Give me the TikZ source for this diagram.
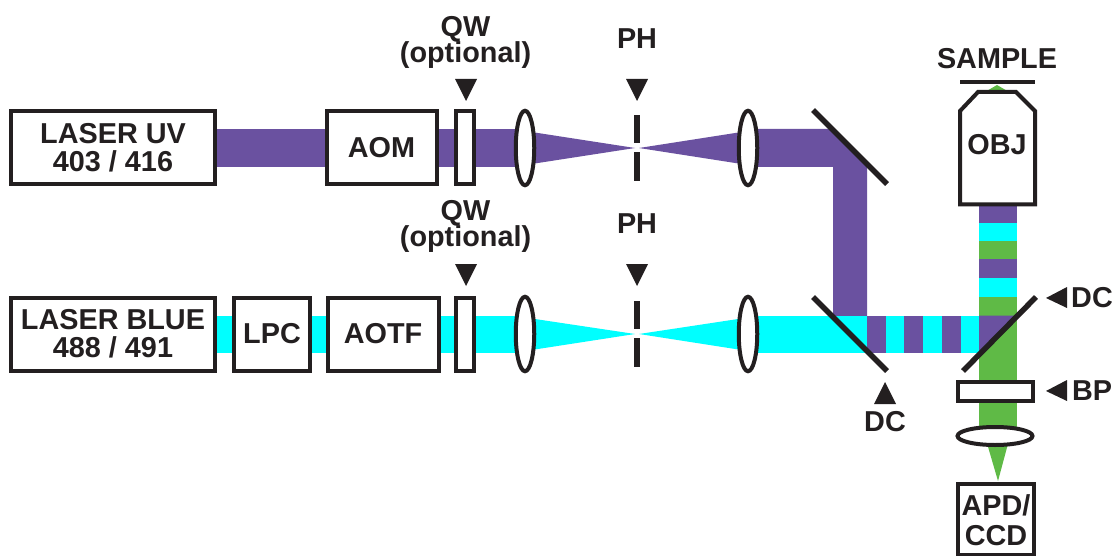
\documentclass[tikz,border=0pt]{standalone}
\usepackage{fontspec}
\setmainfont{Liberation Sans}
\usetikzlibrary{shapes.geometric}
\definecolor{ink}{HTML}{231F20}
\definecolor{uvbeam}{HTML}{6A51A0}
\definecolor{bluebeam}{HTML}{00FFFF}
\definecolor{greenbeam}{HTML}{5FBA46}
\tikzset{
  x=1pt,y=-1pt,
  lbl/.style={font=\fontsize{28.8}{30}\selectfont\bfseries,text=ink,inner sep=0pt,align=center},
  device/.style={draw=ink,line width=4pt,fill=white,rectangle,inner sep=0pt,font=\fontsize{28.8}{30}\selectfont\bfseries,text=ink,align=center,minimum width=#1,minimum height=73pt},
  device/.default=100pt,
  lensv/.style={draw=ink,line width=4pt,fill=white,ellipse,inner sep=0pt,minimum width=18.5pt,minimum height=74.5pt},
  lensh/.style={draw=ink,line width=4pt,fill=white,ellipse,inner sep=0pt,minimum width=75pt,minimum height=18pt},
  mirror/.style={draw=ink,line width=5.5pt},
  phbar/.style={fill=ink},
  pointer/.style={fill=ink},
}
\begin{document}
\begin{tikzpicture}
\useasboundingbox (0,0) rectangle (1113,556);
\fill[white] (0,0) rectangle (1113,556);
% beams: UV row
\fill[uvbeam] (200,129) rectangle (525,167);
\fill[uvbeam] (525,131) -- (635,148) -- (525,165) -- cycle;
\fill[uvbeam] (748,131) -- (639,148) -- (748,165) -- cycle;
\fill[uvbeam] (748,129) -- (832,129) -- (867,164) -- (867,316) -- (833,316) -- (833,167) -- (748,167) -- cycle;
% beams: blue row
\fill[bluebeam] (200,315.5) rectangle (525,353);
\fill[bluebeam] (525,317.5) -- (635,334) -- (525,351) -- cycle;
\fill[bluebeam] (748,317.5) -- (639,334) -- (748,351) -- cycle;
\fill[bluebeam] (748,315.5) rectangle (979,353);
\fill[uvbeam] (867,315.5) rectangle (886,353);
\fill[uvbeam] (904,315.5) rectangle (923,353);
\fill[uvbeam] (942,315.5) rectangle (961,353);
% beams: detection column
\fill[greenbeam] (979,297) rectangle (1017,436);
\fill[uvbeam] (979,315.5) -- (1020,315.5) -- (979,356) -- cycle;
\fill[uvbeam] (979,206) rectangle (1017,223);
\fill[bluebeam] (979,223) rectangle (1017,241);
\fill[greenbeam] (979,241) rectangle (1017,259);
\fill[uvbeam] (979,259) rectangle (1017,278);
\fill[bluebeam] (979,278) rectangle (1017,297);
\fill[greenbeam] (986,440) -- (1009,440) -- (998,481) -- cycle;
\fill[greenbeam] (985,92) -- (997,85) -- (1009,92) -- cycle;
% boxes
\node[device=204pt] (uv) at (113,148) {\strut};
\node[lbl] (uvtxt) at (113,148) {LASER UV\\[-2pt]403 / 416};
\node[device=110pt] (aom) at (381.5,148) {AOM};
\node[device=18.5pt] (qw1) at (465,148) {};
\node[lensv] (l1) at (525,148) {};
\node[lensv] (l2) at (748,148) {};
\node[device=204pt] (blue) at (113,334) {\strut};
\node[lbl] (bluetxt) at (113,334) {LASER BLUE\\[-2pt]488 / 491};
\node[device=76pt] (lpc) at (272,334) {LPC};
\node[device=111pt] (aotf) at (383,334) {AOTF};
\node[device=18.5pt] (qw2) at (465,334) {};
\node[lensv] (l3) at (525,334) {};
\node[lensv] (l4) at (748,334) {};
% pinholes
\fill[phbar] (634,115) rectangle (640,143);
\fill[phbar] (634,152) rectangle (640,181);
\fill[phbar] (634,301) rectangle (640,329);
\fill[phbar] (634,338) rectangle (640,367);
% mirrors
\coordinate (m1a) at (813,110); \coordinate (m1b) at (887,184);
\coordinate (m2a) at (813,297); \coordinate (m2b) at (887,371);
\coordinate (m3a) at (963,371); \coordinate (m3b) at (1036,297);
\draw[mirror] (m1a) -- (m1b);
\draw[mirror] (m2a) -- (m2b);
\draw[mirror] (m3a) -- (m3b);
% objective and sample
\draw[ink,line width=4pt] (960,82) -- (1035,82);
\draw[draw=ink,line width=4pt,fill=white,miter limit=10] (960,111) -- (978,92) -- (1016,92) -- (1035,111) -- (1035,204.5) -- (960,204.5) -- cycle;
\node[lbl] (obj) at (997,145) {OBJ};
\node[lbl] (sample) at (997,59) {SAMPLE};
% BP, lens, detector
\node[draw=ink,line width=4pt,fill=white,minimum width=75pt,minimum height=19pt,inner sep=0pt] (bp) at (995,391) {};
\node[lensh] (l5) at (995,436) {};
\draw[draw=ink,line width=4pt,fill=white] (958,483.5) rectangle (1033.5,554.5);
\node[lbl] (apd) at (996,520) {APD/\\[0pt]CCD};
% pointers
\fill[pointer] (455,79) -- (477,79) -- (466,101) -- cycle;
\fill[pointer] (626,79) -- (648,79) -- (637,101) -- cycle;
\fill[pointer] (455,264) -- (477,264) -- (466,286) -- cycle;
\fill[pointer] (626,264) -- (648,264) -- (637,286) -- cycle;
\fill[pointer] (885,382) -- (896,404) -- (874,404) -- cycle;
\fill[pointer] (1046,298) -- (1067,287) -- (1067,308) -- cycle;
\fill[pointer] (1046,391) -- (1067,380) -- (1067,401) -- cycle;
% labels
\node[lbl] (qwt1) at (465.5,42) {QW\\[-4pt](optional)};
\node[lbl] (pht1) at (637,39) {PH};
\node[lbl] (qwt2) at (465.5,226) {QW\\[-4pt](optional)};
\node[lbl] (pht2) at (637,224) {PH};
\node[lbl] (dct1) at (1092,298) {DC};
\node[lbl] (bpt) at (1092,391) {BP};
\node[lbl] (dct2) at (885,422) {DC};
\end{tikzpicture}
\end{document}
